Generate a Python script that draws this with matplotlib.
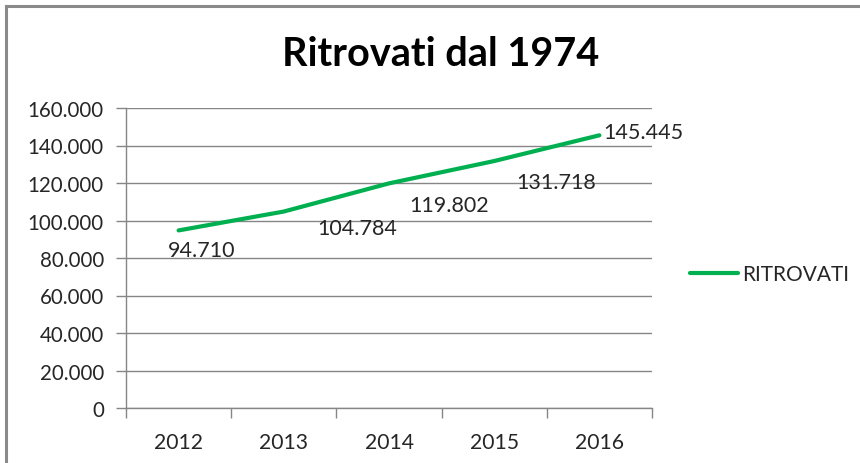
import matplotlib
matplotlib.use("Agg")
import matplotlib.pyplot as plt
from matplotlib.lines import Line2D
from matplotlib.ticker import FuncFormatter, MultipleLocator

years = ["2012", "2013", "2014", "2015", "2016"]
ritrovati = [94710, 104784, 119802, 131718, 145445]
series_name = "RITROVATI"
title = "Ritrovati dal 1974"

plt.rcParams['font.family'] = ['Lato', 'DejaVu Sans']

W, H = 860, 464
fig = plt.figure(figsize=(W / 100, H / 100), dpi=100)
fig.patch.set_facecolor('white')

# partial frame (top and left visible in reference)
fig.add_artist(Line2D([6 / W, 1], [1 - 7 / H, 1 - 7 / H], color='#8a8a8a', lw=2.2, transform=fig.transFigure))
fig.add_artist(Line2D([6 / W, 6 / W], [0, 1 - 7 / H], color='#8a8a8a', lw=2.2, transform=fig.transFigure))

ax = fig.add_axes([126 / W, 1 - 409 / H, (652 - 126) / W, (409 - 109) / H])
x = list(range(len(years)))
green = '#00B050'
line, = ax.plot(x, ritrovati, color=green, lw=3.0, solid_capstyle='round', label=series_name)

ax.set_xlim(-0.5, len(years) - 0.5)
ax.set_ylim(0, 160000)
ax.yaxis.set_major_locator(MultipleLocator(20000))
ax.yaxis.set_major_formatter(FuncFormatter(lambda v, p: f"{int(v):,}".replace(",", ".")))
ax.set_xticks(x)
ax.set_xticklabels(years)
ax.set_xticks([i - 0.5 for i in range(len(years) + 1)], minor=True)

gc = '#868686'
ax.grid(axis='y', color=gc, lw=1.0)
ax.set_axisbelow(True)
for s in ['top', 'right']:
    ax.spines[s].set_visible(False)
for s in ['left', 'bottom']:
    ax.spines[s].set_color(gc)
    ax.spines[s].set_linewidth(1.0)

ax.tick_params(axis='y', which='major', length=7, color=gc, width=1.0, labelsize=14.8, labelcolor='#262626', pad=9)
ax.tick_params(axis='x', which='major', length=0, labelsize=15.2, labelcolor='#262626', pad=17)
ax.tick_params(axis='x', which='minor', length=7, color=gc, width=1.0)

# data labels (positions in pixels relative to points, as in reference)
offsets = [(23, -20), (73, -16), (60, -22), (62, -21), (4, 3)]
aligns = ['center', 'center', 'center', 'center', 'left']
for xi, v, (dx, dy), ha in zip(x, ritrovati, offsets, aligns):
    ax.annotate(f"{v:,}".replace(",", "."), (xi, v), xytext=(dx, dy), textcoords='offset pixels',
                ha=ha, va='center', fontsize=15.5, color='#262626')

fig.text(0.5 + 11 / W, 1 - 55 / H, title, ha='center', va='center', fontsize=28.5, fontweight='bold', color='black')

fig.legend(handles=[line], labels=[series_name], loc='center left', bbox_to_anchor=(671 / W, 1 - 275 / H),
           frameon=False, fontsize=15, handlelength=2.3, handletextpad=0.2, labelcolor='#262626')

fig.savefig('out.png', dpi=100, facecolor='white')
